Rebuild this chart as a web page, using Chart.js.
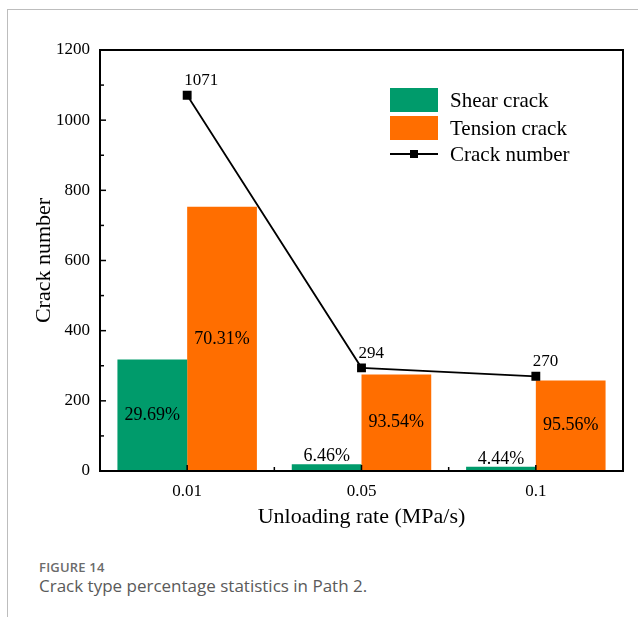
<!DOCTYPE html>
<html>
<head>
<meta charset="utf-8">
<script src="https://cdn.jsdelivr.net/npm/chart.js@4"></script>
<style>
  body { margin: 0; background: #fff; width: 638px; height: 617px; overflow: hidden; position: relative; }
  #frame { position: absolute; left: 7px; top: 9px; width: 640px; height: 620px; border-top: 1px solid #bdbdbd; border-left: 1px solid #bdbdbd; }
  #wrap { position: absolute; left: 0; top: 0; width: 638px; height: 540px; }
  #cap1 { position: absolute; left: 39px; top: 558px; font-family: "Open Sans", sans-serif; font-size: 13px; font-weight: 600; color: #6b6b6b; letter-spacing: 0.2px; }
  #cap2 { position: absolute; left: 39px; top: 574px; font-family: "Open Sans", sans-serif; font-size: 17px; color: #5a5a5a; }
</style>
</head>
<body>
<div id="frame"></div>
<div id="wrap"><canvas id="crackChart" width="638" height="540"></canvas></div>
<div id="cap1">FIGURE 14</div>
<div id="cap2">Crack type percentage statistics in Path 2.</div>
<script>
// dados
const rates = ['0.01', '0.05', '0.1'];
const shearCrack = [318, 19, 12];
const tensionCrack = [753, 275, 258];
const crackNumber = [1071, 294, 270];
const shearPct = ['29.69%', '6.46%', '4.44%'];
const tensionPct = ['70.31%', '93.54%', '95.56%'];
const yTicks = [0, 200, 400, 600, 800, 1000, 1200];

const serif = '"Liberation Serif", "Times New Roman", serif';

// moldura, marcas internas, rótulos e legenda
const extras = {
    id: 'extras',
    afterDatasetsDraw(chart) {
        const ctx = chart.ctx;
        const area = chart.chartArea;
        const x = chart.scales.x;
        const y = chart.scales.y;
        ctx.save();

        // rótulos de porcentagem
        ctx.fillStyle = '#000';
        ctx.font = '18px ' + serif;
        ctx.textAlign = 'center';
        [[0, shearPct], [1, tensionPct]].forEach(([di, labels]) => {
            const meta = chart.getDatasetMeta(di);
            meta.data.forEach((bar, i) => {
                const h = bar.base - bar.y;
                if (h > 40) {
                    ctx.textBaseline = 'middle';
                    ctx.fillText(labels[i], bar.x, (bar.y + bar.base) / 2);
                } else {
                    ctx.textBaseline = 'bottom';
                    ctx.fillText(labels[i], bar.x, bar.y + 1);
                }
            });
        });

        // valores da linha
        const lineMeta = chart.getDatasetMeta(2);
        ctx.font = '17px ' + serif;
        ctx.textAlign = 'left';
        ctx.textBaseline = 'bottom';
        lineMeta.data.forEach((pt, i) => {
            ctx.fillText(String(crackNumber[i]), pt.x - 3, pt.y - 6);
        });

        // moldura
        ctx.strokeStyle = '#000';
        ctx.lineWidth = 2;
        ctx.strokeRect(area.left, area.top, area.right - area.left, area.bottom - area.top);

        // marcas do eixo y (maiores e menores, para dentro)
        ctx.lineWidth = 1.5;
        for (let v = 0; v <= 1200; v += 100) {
            const py = y.getPixelForValue(v);
            const len = v % 200 === 0 ? 6 : 4;
            ctx.beginPath();
            ctx.moveTo(area.left, py);
            ctx.lineTo(area.left + len, py);
            ctx.stroke();
        }
        // marcas do eixo x
        for (let i = 0; i < rates.length; i++) {
            const px = x.getPixelForValue(i);
            ctx.beginPath();
            ctx.moveTo(px, area.bottom);
            ctx.lineTo(px, area.bottom - 6);
            ctx.stroke();
            if (i < rates.length - 1) {
                const mx = (px + x.getPixelForValue(i + 1)) / 2;
                ctx.beginPath();
                ctx.moveTo(mx, area.bottom);
                ctx.lineTo(mx, area.bottom - 4);
                ctx.stroke();
            }
        }

        // legenda
        const lx = area.left + 290;
        const ly = area.top + 38;
        ctx.font = '21px ' + serif;
        ctx.textAlign = 'left';
        ctx.textBaseline = 'middle';
        ctx.fillStyle = '#009B6B';
        ctx.fillRect(lx, ly, 48, 24);
        ctx.fillStyle = '#FF6E00';
        ctx.fillRect(lx, ly + 28, 48, 24);
        ctx.strokeStyle = '#000';
        ctx.lineWidth = 2;
        ctx.beginPath();
        ctx.moveTo(lx, ly + 66);
        ctx.lineTo(lx + 48, ly + 66);
        ctx.stroke();
        ctx.fillStyle = '#000';
        ctx.fillRect(lx + 20, ly + 62, 8, 8);
        ctx.fillText('Shear crack', lx + 60, ly + 13);
        ctx.fillText('Tension crack', lx + 60, ly + 41);
        ctx.fillText('Crack number', lx + 60, ly + 67);
        ctx.restore();
    }
};

const ctxCrack = document.getElementById('crackChart').getContext('2d');
const crackChart = new Chart(ctxCrack, {
    type: 'bar',
    data: {
        labels: rates,
        datasets: [{
            label: 'Shear crack',
            data: shearCrack,
            backgroundColor: '#009B6B',
            categoryPercentage: 0.8,
            barPercentage: 1.0,
            order: 2
        }, {
            label: 'Tension crack',
            data: tensionCrack,
            backgroundColor: '#FF6E00',
            categoryPercentage: 0.8,
            barPercentage: 1.0,
            order: 2
        }, {
            type: 'line',
            label: 'Crack number',
            data: crackNumber,
            borderColor: '#000',
            backgroundColor: '#000',
            borderWidth: 1.8,
            pointStyle: 'rect',
            pointRadius: 5,
            pointHoverRadius: 5,
            order: 1
        }]
    },
    options: {
        responsive: false,
        animation: false,
        layout: { padding: { left: 27, top: 50, right: 15, bottom: 6 } },
        plugins: {
            legend: { display: false },
            tooltip: { enabled: false }
        },
        scales: {
            x: {
                grid: { display: false, drawTicks: false },
                border: { display: false },
                ticks: { color: '#000', font: { family: serif, size: 17 }, padding: 10 },
                title: { display: true, text: 'Unloading rate (MPa/s)', color: '#000', font: { family: serif, size: 22 }, padding: { top: 2 } },
                afterFit(scale) { scale.height = 63; }
            },
            y: {
                min: 0,
                max: 1200,
                grid: { display: false, drawTicks: false },
                border: { display: false },
                afterBuildTicks(scale) { scale.ticks = yTicks.map(v => ({ value: v })); },
                ticks: { color: '#000', font: { family: serif, size: 17 }, padding: 10, callback: v => String(v) },
                title: { display: true, text: 'Crack number', color: '#000', font: { family: serif, size: 22 }, padding: { bottom: 4 } },
                afterFit(scale) { scale.width = 73; }
            }
        }
    },
    plugins: [extras]
});
</script>
</body>
</html>
